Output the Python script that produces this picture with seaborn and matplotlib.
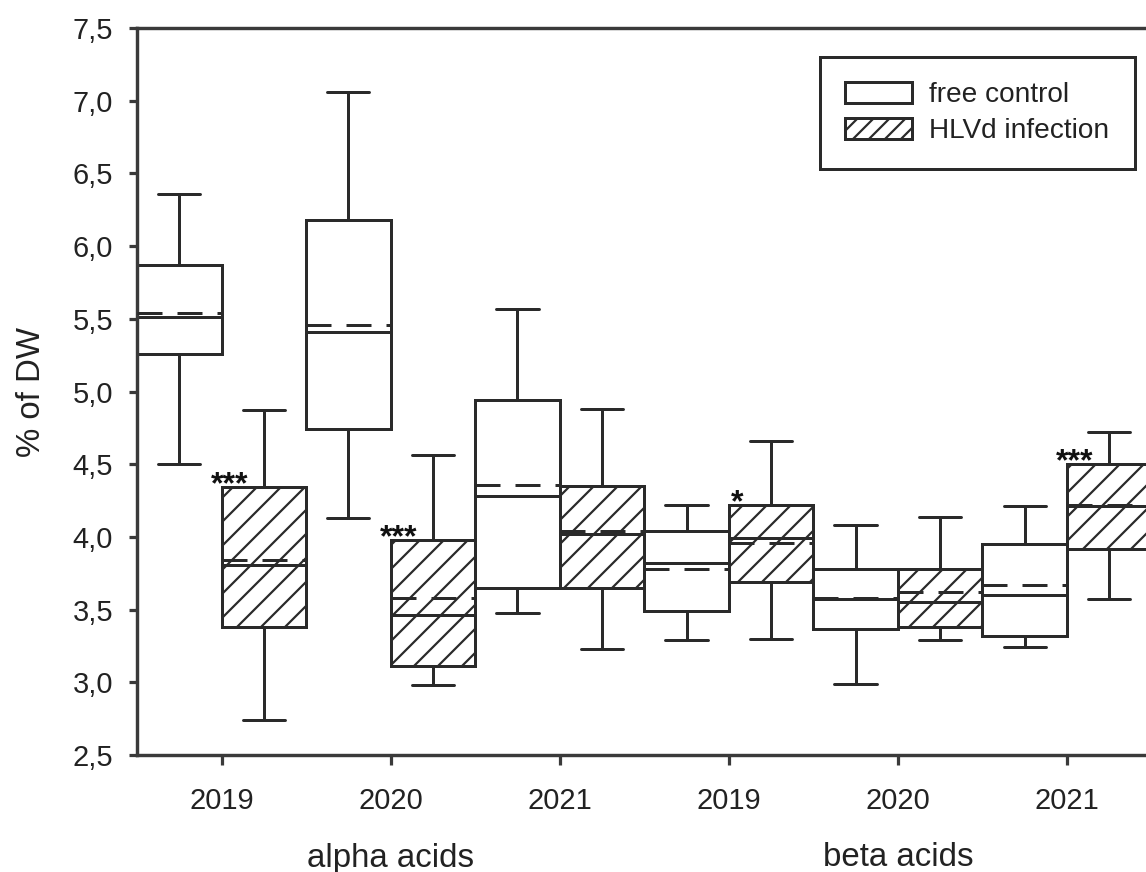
import numpy as np
import pandas as pd
import matplotlib
matplotlib.use("Agg")
import matplotlib.pyplot as plt
import seaborn as sns
from matplotlib.patches import Patch
from matplotlib import transforms

# ---------------- data ----------------
categories = ["alpha 2019", "alpha 2020", "alpha 2021", "beta 2019", "beta 2020", "beta 2021"]
year_labels = ["2019", "2020", "2021", "2019", "2020", "2021"]
acid_labels = ["alpha acids", "beta acids"]
acid_members = [[0, 1, 2], [3, 4, 5]]
groups = ["free control", "HLVd infection"]

control_min = [4.50, 4.13, 3.48, 3.29, 2.99, 3.24]
control_q1 = [5.26, 4.74, 3.65, 3.49, 3.37, 3.32]
control_median = [5.51, 5.41, 4.28, 3.82, 3.57, 3.60]
control_q3 = [5.87, 6.18, 4.94, 4.04, 3.78, 3.95]
control_max = [6.36, 7.06, 5.57, 4.22, 4.08, 4.21]
control_mean = [5.54, 5.46, 4.36, 3.78, 3.58, 3.67]

infect_min = [2.74, 2.98, 3.23, 3.30, 3.29, 3.57]
infect_q1 = [3.38, 3.11, 3.65, 3.69, 3.38, 3.92]
infect_median = [3.81, 3.46, 4.02, 3.99, 3.55, 4.21]
infect_q3 = [4.34, 3.98, 4.35, 4.22, 3.78, 4.50]
infect_max = [4.87, 4.56, 4.88, 4.66, 4.14, 4.72]
infect_mean = [3.84, 3.58, 4.04, 3.96, 3.62, 4.22]

significance = ["***", "***", "", "*", "", "***"]
yticks = [2.5, 3.0, 3.5, 4.0, 4.5, 5.0, 5.5, 6.0, 6.5, 7.0, 7.5]

# five-number summaries -> long table (percentiles of 5 points reproduce them)
rows = []
for i, cat in enumerate(categories):
    for grp, stats in ((groups[0], (control_min, control_q1, control_median, control_q3, control_max)),
                       (groups[1], (infect_min, infect_q1, infect_median, infect_q3, infect_max))):
        for s in stats:
            rows.append({"category": cat, "group": grp, "value": s[i]})
df = pd.DataFrame(rows)

# ---------------- style ----------------
DPI = 144
W, H = 1146, 872
sns.set_style("ticks")
plt.rcParams["font.family"] = ["Liberation Sans", "DejaVu Sans"]
plt.rcParams["hatch.linewidth"] = 1.1
plt.rcParams["lines.scale_dashes"] = False
edge = "#2a2a2a"
txt = "#222222"
lw = 1.5

fig = plt.figure(figsize=(W / DPI, H / DPI), dpi=DPI)
fig.patch.set_facecolor("white")
ax = fig.add_axes([137 / W, 1 - 755 / H, 1014.5 / W, 727 / H])

box_width = 1.0
sns.boxplot(data=df, x="category", y="value", hue="group", order=categories, hue_order=groups,
            palette={groups[0]: "white", groups[1]: "white"}, saturation=1,
            width=box_width, gap=0, whis=(0, 100), showfliers=False,
            linecolor=edge, linewidth=lw, legend=False, ax=ax)

# hatch the infection boxes (right box of each pair)
for p in ax.patches:
    v = p.get_path().vertices
    cx = (v[:, 0].min() + v[:, 0].max()) / 2
    if cx - round(cx) > 0:
        p.set_hatch("//")

# dashed mean lines
half = box_width / 2
for i in range(len(categories)):
    ax.hlines(control_mean[i], i - half, i, colors=edge, linestyles=(0, (12.5, 7.5)),
              linewidth=lw, zorder=5)
    ax.hlines(infect_mean[i], i, i + half, colors=edge, linestyles=(0, (12.5, 7.5)),
              linewidth=lw, zorder=5)

# significance stars
for i, s in enumerate(significance):
    if s:
        ax.annotate(s, xy=(i, infect_q3[i]), xytext=(4, -3), textcoords="offset points",
                    ha="center", va="baseline", fontsize=16, fontweight="bold", color="#111111")

# axes
ax.set_xlim(-0.5, 5.5)
ax.set_ylim(2.5, 7.5)
ax.set_yticks(yticks)
ax.set_yticklabels([f"{v:.1f}".replace(".", ",") for v in yticks])
ax.set_xticks(range(len(categories)))
ax.set_xticklabels(year_labels)
ax.set_xlabel("")
ax.set_ylabel("% of DW", fontsize=16.5, color=txt)
ax.yaxis.set_label_coords(-0.0887, 0.5)
for side in ["left", "bottom", "top"]:
    ax.spines[side].set_linewidth(1.7)
    ax.spines[side].set_color("#3a3a3a")
ax.spines["right"].set_visible(False)
ax.tick_params(axis="y", length=4, width=1.6, pad=8, labelsize=14.5, color="#3a3a3a", labelcolor=txt)
ax.tick_params(axis="x", length=5, width=1.6, pad=11, labelsize=14.5, color="#3a3a3a", labelcolor=txt)

trans = transforms.blended_transform_factory(ax.transData, ax.transAxes)
for members, lab in zip(acid_members, acid_labels):
    ax.text(np.mean(members), (755 - 858) / 727, lab, transform=trans, ha="center", va="center",
            fontsize=16.5, color=txt)

handles = [Patch(facecolor="white", edgecolor=edge, linewidth=lw, label=groups[0]),
           Patch(facecolor="white", edgecolor=edge, linewidth=lw, hatch="///", label=groups[1])]
leg = ax.legend(handles=handles, loc="upper left",
                bbox_to_anchor=((820 - 137) / 1014.5, (755 - 57) / 727), borderaxespad=0,
                frameon=True, fancybox=False, fontsize=14, handlelength=2.4, handleheight=0.75,
                handletextpad=0.6, labelspacing=0.35, borderpad=0.9)
frame = leg.get_frame()
frame.set_edgecolor(edge)
frame.set_linewidth(lw)
frame.set_facecolor("white")
frame.set_alpha(1)
for t in leg.get_texts():
    t.set_color(txt)

fig.savefig("out.png", dpi=DPI, facecolor="white")
